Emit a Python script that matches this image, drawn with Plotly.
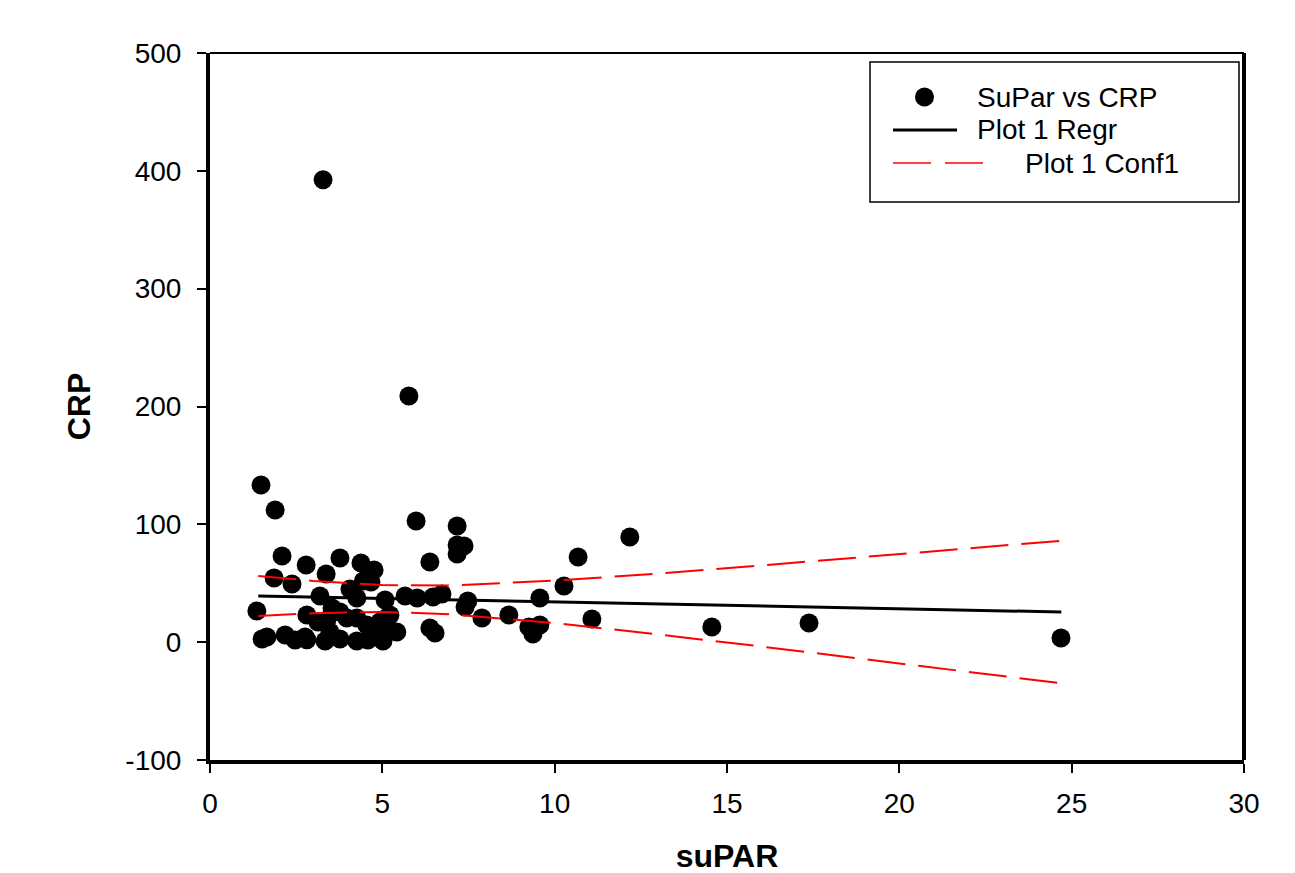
import plotly.graph_objects as go

# Scatter data (suPAR vs CRP)
supar = [3.28, 5.77, 1.48, 1.89, 2.09, 1.86, 2.38, 2.79, 3.37, 3.77, 4.38, 4.76, 4.67, 4.06, 3.19,
         5.98, 7.17, 7.17, 7.37, 7.17, 6.38, 10.68, 12.18, 10.27, 9.57, 1.36, 5.66, 6.01, 6.47, 6.73,
         7.40, 7.48, 5.08, 7.89, 8.67, 11.08, 9.25, 9.37, 9.57, 14.56, 17.38, 24.69, 1.51, 1.65, 2.18,
         2.47, 2.76, 2.81, 2.81, 3.13, 3.34, 3.54, 3.77, 3.97, 3.77, 4.26, 4.55, 4.26, 4.58, 4.73,
         4.93, 5.02, 5.16, 5.42, 5.13, 6.38, 6.53, 3.48, 3.39, 4.26, 5.22, 4.45]
crp = [392.4, 208.9, 133.4, 112.2, 73.2, 54.5, 49.4, 65.5, 57.9, 71.5, 67.2, 61.3, 51.1, 45.2, 39.2,
       102.9, 98.6, 82.5, 81.7, 74.9, 68.1, 72.3, 89.3, 47.7, 37.5, 26.5, 39.2, 37.5, 38.4, 40.9,
       29.9, 35.0, 35.8, 20.5, 23.1, 19.7, 12.9, 7.0, 14.6, 12.9, 16.3, 3.6, 2.7, 4.4, 6.1,
       1.9, 4.4, 2.0, 23.1, 17.1, 1.0, 29.0, 25.6, 20.5, 2.7, 20.5, 14.6, 1.0, 1.9, 8.7,
       17.1, 1.0, 21.4, 8.7, 8.7, 12.1, 7.8, 8.7, 18.8, 37.5, 23.1, 52.0]

# Regression line and 95% confidence band
fit_x = [1.4, 3, 5, 7, 10, 13, 16, 19, 22, 24.7]
regr = [39.2, 38.3, 37.1, 35.9, 34.2, 32.4, 30.7, 28.9, 27.2, 25.6]
conf_upper = [56.2, 52.0, 48.5, 48.1, 52.2, 58.2, 65.1, 72.2, 79.5, 86.1]
conf_lower = [22.2, 24.6, 25.7, 23.7, 16.2, 6.6, -3.7, -14.4, -25.1, -34.9]

x_ticks = [0, 5, 10, 15, 20, 25, 30]
y_ticks = [-100, 0, 100, 200, 300, 400, 500]
y_ticktext = ["-100", "0", "100", "200", "300", "400", "500"]

legend_names = ["SuPar vs CRP", "Plot 1 Regr", "Plot 1 Conf1"]

FONT = "Liberation Sans, Arial, sans-serif"
DASH = "38px,13px"

# plot-area geometry (screen px), page body has 8px margin
PL, PR, PT, PB = 210, 1244, 53, 760
OFF = 8
W, H = 1295, 873


def px_x(p):
    return (p - PL) / (PR - PL)


def px_y(p):
    return (PB - p) / (PB - PT)


fig = go.Figure()
fig.add_trace(go.Scatter(x=supar, y=crp, mode="markers", name=legend_names[0],
                         marker=dict(color="black", size=19, line=dict(width=0))))
fig.add_trace(go.Scatter(x=fit_x, y=regr, mode="lines", name=legend_names[1],
                         line=dict(color="black", width=3)))
fig.add_trace(go.Scatter(x=fit_x, y=conf_upper, mode="lines", name=legend_names[2],
                         line=dict(color="red", width=2, dash=DASH)))
fig.add_trace(go.Scatter(x=fit_x, y=conf_lower, mode="lines", name=legend_names[2],
                         line=dict(color="red", width=2, dash=DASH)))

axis_common = dict(showline=True, linecolor="black", linewidth=4, ticks="outside",
                   ticklen=9, tickwidth=1.5, tickcolor="black", showgrid=False, zeroline=False,
                   tickfont=dict(family=FONT, size=28, color="black"))

# hand-drawn legend box (as in the reference)
shapes = [
    dict(type="line", xref="paper", yref="paper", x0=0, x1=1, y0=1, y1=1,
         line=dict(color="black", width=2)),
    dict(type="line", xref="paper", yref="paper", x0=1, x1=1, y0=0, y1=1,
         line=dict(color="black", width=4)),
    dict(type="rect", xref="paper", yref="paper",
         x0=px_x(870), x1=px_x(1239), y0=px_y(202), y1=px_y(62),
         line=dict(color="black", width=1.5)),
    dict(type="circle", xref="paper", yref="paper", fillcolor="black",
         x0=px_x(915), x1=px_x(934), y0=px_y(106.5), y1=px_y(87.5),
         line=dict(color="black", width=0)),
    dict(type="line", xref="paper", yref="paper", x0=px_x(893), x1=px_x(957),
         y0=px_y(130), y1=px_y(130), line=dict(color="black", width=3)),
    dict(type="line", xref="paper", yref="paper", x0=px_x(893), x1=px_x(931),
         y0=px_y(163), y1=px_y(163), line=dict(color="red", width=1.5)),
    dict(type="line", xref="paper", yref="paper", x0=px_x(945), x1=px_x(983),
         y0=px_y(163), y1=px_y(163), line=dict(color="red", width=1.5)),
]

annotations = []
for name, tx, ty in zip(legend_names, [975, 975, 1023], [97, 130, 163]):
    annotations.append(dict(text=name, xref="paper", yref="paper", x=px_x(tx), y=px_y(ty),
                            xanchor="left", yanchor="middle", showarrow=False,
                            font=dict(family=FONT, size=28, color="black")))

fig.update_layout(
    width=W, height=H,
    margin=dict(l=PL - OFF, r=W - PR + OFF, t=PT - OFF, b=H - PB + OFF),
    paper_bgcolor="white", plot_bgcolor="white",
    font=dict(family=FONT, color="black"),
    xaxis=dict(range=[0, 30], tickvals=x_ticks, ticklabelstandoff=6,
               title=dict(text="<b>suPAR</b>", font=dict(family=FONT, size=32), standoff=28),
               **axis_common),
    yaxis=dict(range=[-100, 500], tickvals=y_ticks, ticktext=y_ticktext, ticklabelstandoff=10,
               title=dict(text="<b>CRP</b>", font=dict(family=FONT, size=32), standoff=26),
               **axis_common),
    showlegend=False,
    shapes=shapes,
    annotations=annotations,
)

fig.write_html("out.html")
